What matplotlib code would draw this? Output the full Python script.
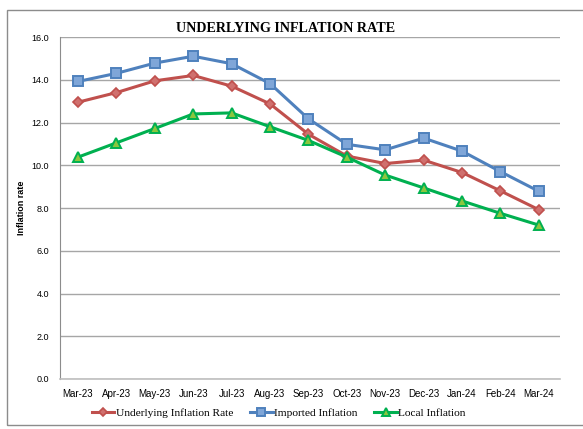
import matplotlib
matplotlib.use("Agg")
import matplotlib.pyplot as plt
from matplotlib.patches import Rectangle

months = ["Mar-23", "Apr-23", "May-23", "Jun-23", "Jul-23", "Aug-23", "Sep-23",
          "Oct-23", "Nov-23", "Dec-23", "Jan-24", "Feb-24", "Mar-24"]
underlying = [12.95, 13.4, 13.95, 14.2, 13.7, 12.87, 11.45, 10.43, 10.08, 10.24, 9.66, 8.8, 7.92]
imported = [13.92, 14.3, 14.78, 15.1, 14.75, 13.82, 12.17, 10.98, 10.72, 11.27, 10.66, 9.7, 8.78]
local = [10.38, 11.05, 11.72, 12.4, 12.45, 11.8, 11.16, 10.38, 9.54, 8.94, 8.33, 7.75, 7.2]
yticks = [0, 2, 4, 6, 8, 10, 12, 14, 16]

fig = plt.figure(figsize=(5.83, 4.29), dpi=100)
fig.patches.append(Rectangle((7/583, 4/429), 1.2, 415/429, transform=fig.transFigure,
                             fill=False, edgecolor="#8c8c8c", linewidth=1.0))
ax = fig.add_axes([60/583, 50/429, 500/583, 342/429])
x = list(range(len(months)))

ax.plot(x, underlying, color="#C0504D", lw=2.2, marker="D", ms=5.5,
        mfc="#D0706E", mec="#C0504D", mew=1.2, label="Underlying Inflation Rate", zorder=3)
ax.plot(x, imported, color="#4F81BD", lw=2.2, marker="s", ms=7.5,
        mfc="#7FA6D8", mec="#4F81BD", mew=1.4, label="Imported Inflation", zorder=3)
ax.plot(x, local, color="#00B050", lw=2.2, marker="^", ms=7.5,
        mfc="#8CC63F", mec="#00B050", mew=1.4, label="Local Inflation", zorder=3)

ax.set_xlim(-0.47, 12.55)
ax.set_ylim(0, 16)
ax.set_yticks(yticks)
ax.set_yticklabels([f"{v:.1f}" for v in yticks], fontsize=6.5, family="Liberation Sans")
ax.set_xticks(x)
ax.set_xticklabels(months, fontsize=7, family="Liberation Sans")
ax.tick_params(length=0, pad=7, axis="x")
ax.tick_params(length=0, pad=8, axis="y")
ax.grid(axis="y", color="#a6a6a6", lw=1.0)
ax.set_axisbelow(True)
for s in ["top", "right"]:
    ax.spines[s].set_visible(False)
ax.spines["left"].set_color("#8c8c8c")
ax.spines["bottom"].set_color("#bfbfbf")
ax.spines["bottom"].set_linewidth(1.2)
ax.set_ylabel("Inflation rate", fontsize=6.5, fontweight="bold", family="Liberation Sans", labelpad=4)

fig.text(0.49, 0.933, "UNDERLYING INFLATION RATE", ha="center", va="center",
         fontsize=10.2, fontweight="bold", family="Liberation Serif")
fig.legend(loc="center", bbox_to_anchor=(0.478, 0.037), ncol=3, frameon=False,
           prop={"family": "Liberation Serif", "size": 8.2}, handlelength=2.0,
           handletextpad=0.1, columnspacing=1.5, markerscale=0.8)

fig.savefig("out.png", dpi=100)
